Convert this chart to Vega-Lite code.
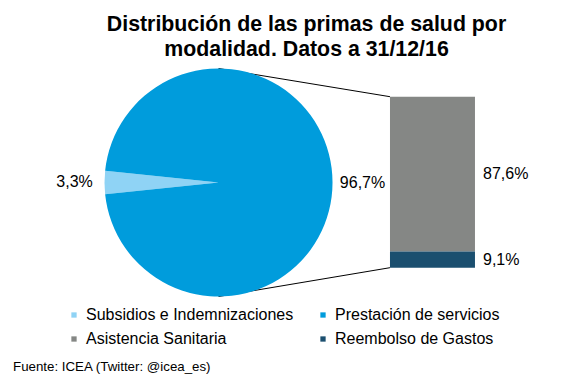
{
  "$schema": "https://vega.github.io/schema/vega-lite/v6.json",
  "width": 567,
  "height": 232,
  "autosize": {"type": "none"},
  "padding": {"top": 68, "left": 0, "right": 0, "bottom": 79},
  "background": "white",
  "title": {
    "text": ["Distribución  de las primas de salud por", "modalidad. Datos a 31/12/16"],
    "font": "Liberation Sans",
    "fontSize": 21.33,
    "fontWeight": "bold",
    "color": "#000000",
    "lineHeight": 25,
    "anchor": "middle",
    "dx": 23,
    "offset": 8
  },
  "config": {"view": {"stroke": null}},
  "data": {
    "values": [
      {"categoria": "Subsidios e Indemnizaciones", "porcentaje": 3.3, "grafico": "Tarta"},
      {"categoria": "Prestación de servicios", "porcentaje": 96.7, "grafico": "Tarta"},
      {"categoria": "Asistencia Sanitaria", "porcentaje": 87.6, "grafico": "Barra"},
      {"categoria": "Reembolso de Gastos", "porcentaje": 9.1, "grafico": "Barra"}
    ]
  },
  "transform": [
    {"calculate": "replace(format(datum.porcentaje, '.1f'), '.', ',') + '%'", "as": "etiqueta"}
  ],
  "layer": [
    {
      "data": {"values": [{"linea": "superior"}]},
      "mark": {"type": "rule", "color": "#000000", "strokeWidth": 1},
      "encoding": {
        "x": {"datum": 38.54, "type": "quantitative", "scale": {"domain": [0, 100], "nice": false, "zero": false}, "axis": null},
        "y": {"datum": 112.65, "type": "quantitative", "scale": {"domain": [-18.27, 112.93], "nice": false, "zero": false}, "axis": null},
        "x2": {"datum": 68.78},
        "y2": {"datum": 96.7}
      }
    },
    {
      "data": {"values": [{"linea": "inferior"}]},
      "mark": {"type": "rule", "color": "#000000", "strokeWidth": 1},
      "encoding": {
        "x": {"datum": 38.54, "type": "quantitative"},
        "y": {"datum": -16.29, "type": "quantitative"},
        "x2": {"datum": 68.78},
        "y2": {"datum": 0}
      }
    },
    {
      "transform": [{"filter": "datum.grafico === 'Tarta'"}],
      "mark": {"type": "arc", "radius": 114},
      "encoding": {
        "theta": {"field": "porcentaje", "type": "quantitative", "stack": true, "scale": {"range": [4.6088, 10.892]}},
        "order": {"field": "porcentaje", "sort": "ascending"},
        "color": {
          "field": "categoria",
          "type": "nominal",
          "scale": {
            "domain": ["Subsidios e Indemnizaciones", "Prestación de servicios", "Asistencia Sanitaria", "Reembolso de Gastos"],
            "range": ["#8FD3F5", "#009CDC", "#858785", "#1B4F6F"]
          },
          "legend": {
            "orient": "none",
            "legendX": 66,
            "legendY": 239,
            "direction": "horizontal",
            "columns": 2,
            "title": null,
            "symbolType": "square",
            "symbolSize": 28,
            "symbolStrokeWidth": 0,
            "labelFont": "Liberation Sans",
            "labelFontSize": 16,
            "labelColor": "#000000",
            "labelOffset": 4,
            "labelLimit": 300,
            "columnPadding": 21,
            "rowPadding": 8,
            "padding": 0
          }
        },
        "x": {"datum": 38.54, "type": "quantitative"},
        "y": {"datum": 48.18, "type": "quantitative"}
      }
    },
    {
      "transform": [{"filter": "datum.grafico === 'Tarta'"}],
      "mark": {"type": "text", "radius": 144, "font": "Liberation Sans", "fontSize": 16, "color": "#000000", "align": "center", "baseline": "middle"},
      "encoding": {
        "theta": {"field": "porcentaje", "type": "quantitative", "stack": true},
        "order": {"field": "porcentaje", "sort": "ascending"},
        "text": {"field": "etiqueta", "type": "nominal"},
        "x": {"datum": 38.54, "type": "quantitative"},
        "y": {"datum": 48.18, "type": "quantitative"}
      }
    },
    {
      "transform": [
        {"filter": "datum.grafico === 'Barra'"},
        {"stack": "porcentaje", "groupby": [], "sort": [{"field": "porcentaje", "order": "ascending"}], "as": ["inicio", "fin"]}
      ],
      "mark": {"type": "rect"},
      "encoding": {
        "x": {"datum": 68.78, "type": "quantitative"},
        "x2": {"datum": 83.77},
        "y": {"field": "inicio", "type": "quantitative"},
        "y2": {"field": "fin"},
        "color": {"field": "categoria", "type": "nominal"}
      }
    },
    {
      "transform": [
        {"filter": "datum.grafico === 'Barra'"},
        {"stack": "porcentaje", "groupby": [], "sort": [{"field": "porcentaje", "order": "ascending"}], "as": ["inicio", "fin"]},
        {"calculate": "(datum.inicio + datum.fin) / 2", "as": "centro"}
      ],
      "mark": {"type": "text", "font": "Liberation Sans", "fontSize": 16, "color": "#000000", "align": "left", "baseline": "middle"},
      "encoding": {
        "x": {"datum": 85.19, "type": "quantitative"},
        "y": {"field": "centro", "type": "quantitative"},
        "text": {"field": "etiqueta", "type": "nominal"}
      }
    },
    {
      "data": {"values": [{"fuente": "Fuente: ICEA (Twitter:  @icea_es)"}]},
      "mark": {"type": "text", "font": "Liberation Sans", "fontSize": 13.3, "color": "#000000", "align": "left", "baseline": "middle"},
      "encoding": {
        "x": {"datum": 2.3, "type": "quantitative"},
        "y": {"datum": -56.15, "type": "quantitative"},
        "text": {"field": "fuente", "type": "nominal"}
      }
    }
  ]
}
